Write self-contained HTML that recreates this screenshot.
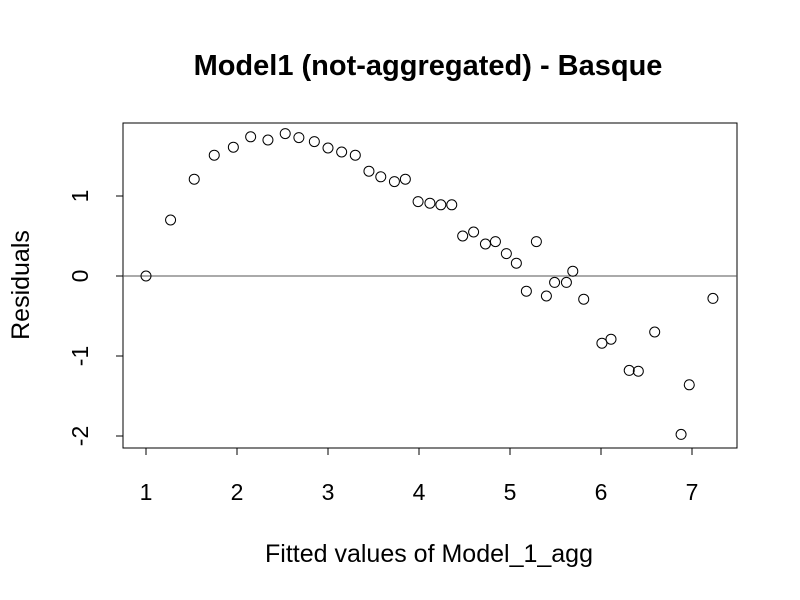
<!DOCTYPE html>
<html><head><meta charset="utf-8"><style>
body{margin:0;background:#fff}
svg{display:block;font-family:"Liberation Sans",Arial,sans-serif}
</style></head><body>
<svg id="c" width="800" height="600" viewBox="0 0 800 600">
<rect width="800" height="600" fill="#fff"/>
<text x="428" y="75" text-anchor="middle" font-size="29" font-weight="bold">Model1 (not-aggregated) - Basque</text>
<text x="429" y="562" text-anchor="middle" font-size="25">Fitted values of Model_1_agg</text>
<text transform="translate(29,285) rotate(-90)" text-anchor="middle" font-size="25">Residuals</text>
<rect x="123" y="123" width="614" height="325" fill="none" stroke="#000"/>
<g id="xa"></g>
<g id="ya"></g>
<g id="pts"></g>
</svg>
<script>
const xTicks=[1,2,3,4,5,6,7];
const yTicks=[-2,-1,0,1];
const fitted=[1.00,1.27,1.53,1.75,1.96,2.15,2.34,2.53,2.68,2.85,3.00,3.15,3.30,3.45,3.58,3.73,3.85,3.99,4.12,4.24,4.36,4.48,4.60,4.73,4.84,4.96,5.07,5.18,5.29,5.40,5.49,5.62,5.69,5.81,6.01,6.11,6.31,6.41,6.59,6.88,6.97,7.23];
const residuals=[0,0.70,1.21,1.51,1.61,1.74,1.70,1.78,1.73,1.68,1.60,1.55,1.51,1.31,1.24,1.18,1.21,0.93,0.91,0.89,0.89,0.50,0.55,0.40,0.43,0.28,0.16,-0.19,0.43,-0.25,-0.08,-0.08,0.06,-0.29,-0.84,-0.79,-1.18,-1.19,-0.70,-1.98,-1.36,-0.28];
const NS="http://www.w3.org/2000/svg";
const sx=v=>146+(v-1)*91;
const sy=v=>276-v*80;
function mk(t,a,p){const e=document.createElementNS(NS,t);for(const k in a)e.setAttribute(k,a[k]);p.appendChild(e);return e;}
const xa=document.getElementById('xa'),ya=document.getElementById('ya'),pts=document.getElementById('pts');
mk('line',{x1:sx(1),x2:sx(7),y1:448,y2:448,stroke:'#000'},xa);
xTicks.forEach(v=>{
 const l=mk('line',{x1:sx(v),x2:sx(v),y1:448,y2:455,stroke:'#000'},xa);
 
 
 const t=mk('text',{x:sx(v),y:500,'text-anchor':'middle','font-size':23},xa);t.textContent=v;
 
 
});
mk('line',{x1:123,x2:123,y1:sy(-2),y2:sy(1),stroke:'#000'},ya);
yTicks.forEach(v=>{
 const l=mk('line',{x1:116,x2:123,y1:sy(v),y2:sy(v),stroke:'#000'},ya);
 
 
 const t=mk('text',{transform:`translate(88,${sy(v)}) rotate(-90)`,'text-anchor':'middle','font-size':23},ya);t.textContent=v;
 
 
});
const h=mk('line',{x1:123,x2:737,y1:sy(0),y2:sy(0),stroke:'#555'},pts);


fitted.forEach((v,i)=>{
 const c=mk('circle',{cx:sx(v),cy:sy(residuals[i]),r:5,fill:'none',stroke:'#000'},pts);
 
 
});
</script>
</body></html>
